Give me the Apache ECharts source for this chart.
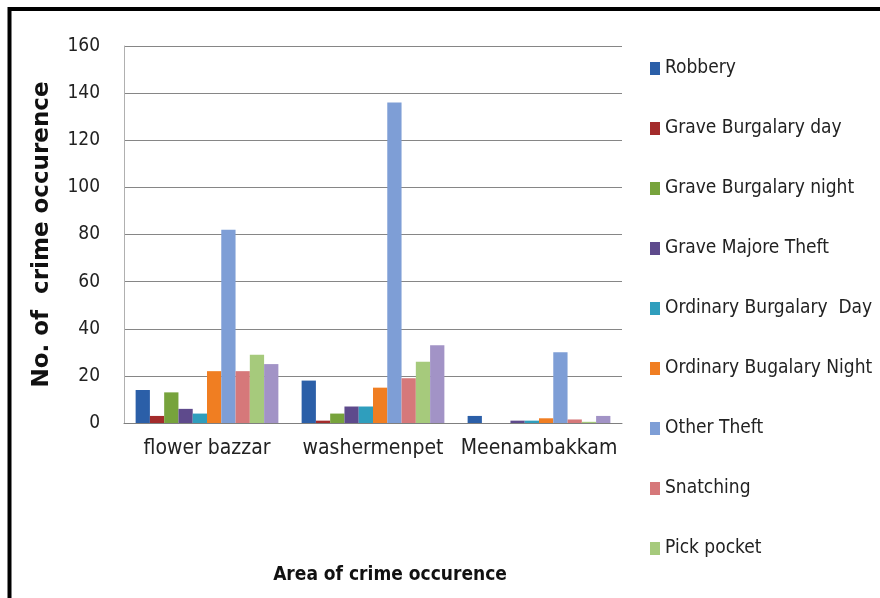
<!DOCTYPE html>
<html>
<head>
<meta charset="utf-8">
<script src="https://cdn.jsdelivr.net/npm/echarts@6/dist/echarts.min.js"></script>
<style>
  html, body { margin: 0; padding: 0; background: #fff; }
  #chart { width: 880px; height: 598px; }
</style>
</head>
<body>
<div id="chart"></div>
<script>
var areas = ['flower bazzar', 'washermenpet', 'Meenambakkam'];
var crimeTypes = ['Robbery', 'Grave Burgalary day', 'Grave Burgalary night', 'Grave Majore Theft',
  'Ordinary Burgalary  Day', 'Ordinary Bugalary Night', 'Other Theft', 'Snatching', 'Pick pocket', 'Others'];
var colors = ['#2B5FA8', '#A32B2B', '#77A33C', '#5E4A8C', '#2F9EBD', '#F07E22', '#7E9ED6', '#D6787A', '#A6CA7C', '#A293C6'];

// one array per crime type, values per area
var robbery = [14, 18, 3];
var graveDay = [3, 1, 0];
var graveNight = [13, 4, 0];
var graveMajor = [6, 7, 1];
var ordDay = [4, 7, 1];
var ordNight = [22, 15, 2];
var otherTheft = [82, 136, 30];
var snatching = [22, 19, 1.5];
var pickPocket = [29, 26, 0.5];
var others = [25, 33, 3];
var yTicks = [0, 20, 40, 60, 80, 100, 120, 140, 160];

var allValues = [robbery, graveDay, graveNight, graveMajor, ordDay, ordNight, otherTheft, snatching, pickPocket, others];

var chart = echarts.init(document.getElementById('chart'));

var series = [];
for (var i = 0; i < crimeTypes.length; i++) {
  series.push({
    name: crimeTypes[i],
    type: 'bar',
    data: allValues[i],
    barGap: '0%',
    barCategoryGap: '14%',
    itemStyle: { color: colors[i] }
  });
}

var narrow = '"DejaVu Sans Condensed", sans-serif';

var option = {
  backgroundColor: '#fff',
  animation: false,
  color: colors,
  grid: { left: 124, right: 258, top: 46, bottom: 175 },
  legend: {
    orient: 'vertical',
    left: 645,
    top: 53,
    itemWidth: 10,
    itemHeight: 13,
    itemGap: 39,
    icon: 'rect',
    textStyle: { fontFamily: narrow, fontSize: 19, color: '#222', lineHeight: 21 },
    data: crimeTypes
  },
  xAxis: {
    type: 'category',
    data: areas,
    name: 'Area of crime occurence',
    nameLocation: 'middle',
    nameGap: 143,
    nameTextStyle: { fontFamily: narrow, fontSize: 19, fontWeight: 'bold', color: '#111', padding: [0, 0, 0, 34] },
    axisLine: { lineStyle: { color: '#7f7f7f', width: 1 } },
    axisTick: { show: false },
    axisLabel: { fontFamily: narrow, fontSize: 21, color: '#222', margin: 15, interval: 0 }
  },
  yAxis: {
    type: 'value',
    min: 0,
    max: 160,
    interval: 20,
    name: 'No. of  crime occurence',
    nameLocation: 'middle',
    nameGap: 70,
    nameTextStyle: { fontFamily: '"DejaVu Sans", sans-serif', fontSize: 23, fontWeight: 'bold', color: '#111' },
    axisLine: { show: true, lineStyle: { color: '#b0b0b0', width: 1 } },
    axisTick: { show: false },
    axisLabel: {
      fontFamily: narrow, fontSize: 19, color: '#222', margin: 24,
      formatter: function (v) { return yTicks.indexOf(v) >= 0 ? String(v) : ''; }
    },
    splitLine: { lineStyle: { color: '#868686', width: 1 } }
  },
  graphic: [{
    type: 'rect',
    shape: { x: 9.5, y: 9, width: 900, height: 700 },
    style: { fill: 'none', stroke: '#000', lineWidth: 4 },
    silent: true
  }],
  series: series
};

chart.setOption(option);
</script>
</body>
</html>
